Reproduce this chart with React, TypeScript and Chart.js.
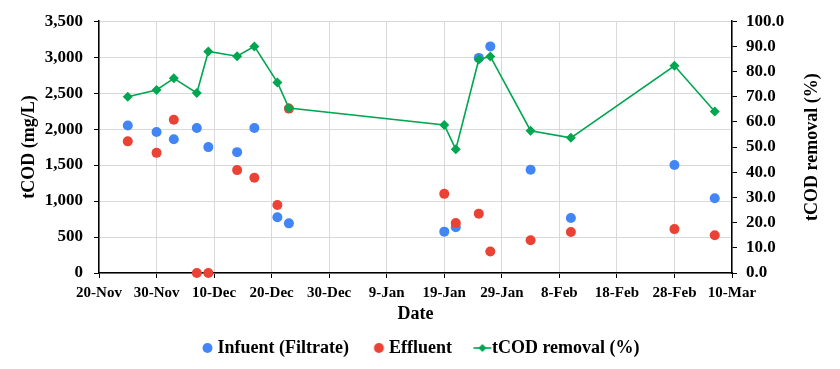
import { useEffect, useRef } from 'react';
import { Chart, registerables } from 'chart.js';

Chart.register(...registerables);

// ---- data ----
const AXIS_START = '2020-11-20';
const xTickLabels = ['20-Nov', '30-Nov', '10-Dec', '20-Dec', '30-Dec', '9-Jan', '19-Jan', '29-Jan', '8-Feb', '18-Feb', '28-Feb', '10-Mar'];
const sampleDates = [
  '2020-11-25', '2020-11-30', '2020-12-03', '2020-12-07', '2020-12-09', '2020-12-14',
  '2020-12-17', '2020-12-21', '2020-12-23', '2021-01-19', '2021-01-21', '2021-01-25',
  '2021-01-27', '2021-02-03', '2021-02-10', '2021-02-28', '2021-03-07',
];
const influent = [2050, 1960, 1860, 2015, 1750, 1680, 2015, 775, 690, 575, 635, 2990, 3150, 1435, 765, 1500, 1040];
const effluent = [1830, 1670, 2130, 0, 0, 1430, 1325, 945, 2285, 1100, 695, 825, 300, 455, 570, 610, 525];
const removal = [70.0, 72.7, 77.3, 71.5, 88.0, 86.1, 90.0, 75.7, 65.5, 58.8, 49.1, 84.8, 86.0, 56.5, 53.7, 82.3, 64.1];
const seriesNames = ['Infuent (Filtrate)', 'Effluent', 'tCOD removal (%)'];
const xTitle = 'Date';
const leftTitle = 'tCOD (mg/L)';
const rightTitle = 'tCOD removal (%)';

const BLUE = '#4285F4';
const RED = '#EA4335';
const GREEN = '#00A650';
const GRID = '#D9D9D9';
const FAMILY = '"Liberation Serif", "Times New Roman", serif';

const dayOffset = (d: string) => (Date.parse(d) - Date.parse(AXIS_START)) / 86400000;

function makeIcon(kind: 'dot' | 'line', color: string) {
  const c = document.createElement('canvas');
  c.width = 40;
  c.height = 14;
  const ctx = c.getContext('2d')!;
  ctx.fillStyle = color;
  ctx.strokeStyle = color;
  if (kind === 'dot') {
    ctx.beginPath();
    ctx.arc(29.5, 7, 5, 0, Math.PI * 2);
    ctx.fill();
  } else {
    ctx.lineWidth = 1.6;
    ctx.beginPath();
    ctx.moveTo(21, 7);
    ctx.lineTo(39, 7);
    ctx.stroke();
    ctx.beginPath();
    ctx.moveTo(30, 3);
    ctx.lineTo(34, 7);
    ctx.lineTo(30, 11);
    ctx.lineTo(26, 7);
    ctx.closePath();
    ctx.fill();
  }
  return c;
}

const rightTitlePlugin = {
  id: 'rightTitle',
  afterDraw(chart: any) {
    const { ctx, chartArea } = chart;
    ctx.save();
    ctx.translate(812, (chartArea.top + chartArea.bottom) / 2);
    ctx.rotate(-Math.PI / 2);
    ctx.font = `bold 18px ${FAMILY}`;
    ctx.fillStyle = '#000';
    ctx.textAlign = 'center';
    ctx.textBaseline = 'middle';
    ctx.fillText(rightTitle, 0, 0);
    ctx.restore();
  },
};

export default function App() {
  const ref = useRef<HTMLCanvasElement>(null);

  useEffect(() => {
    document.body.style.margin = '0';
    const xs = sampleDates.map(dayOffset);
    const icons = [makeIcon('dot', BLUE), makeIcon('dot', RED), makeIcon('line', GREEN)];
    const tickFont = { family: FAMILY, size: 15, weight: 'bold' as const };
    const yTickFont = { family: FAMILY, size: 17, weight: 'bold' as const };
    const titleFont = { family: FAMILY, size: 18, weight: 'bold' as const };

    const chart = new Chart(ref.current!, {
      type: 'scatter',
      data: {
        datasets: [
          {
            label: seriesNames[0],
            data: xs.map((x, i) => ({ x, y: influent[i] })),
            yAxisID: 'y',
            backgroundColor: BLUE,
            borderColor: BLUE,
            pointRadius: 5,
            pointBorderWidth: 0,
            showLine: false,
            order: 3,
            clip: false,
          },
          {
            label: seriesNames[1],
            data: xs.map((x, i) => ({ x, y: effluent[i] })),
            yAxisID: 'y',
            backgroundColor: RED,
            borderColor: RED,
            pointRadius: 5,
            pointBorderWidth: 0,
            showLine: false,
            order: 2,
            clip: false,
          },
          {
            label: seriesNames[2],
            data: xs.map((x, i) => ({ x, y: removal[i] })),
            yAxisID: 'y1',
            backgroundColor: GREEN,
            borderColor: GREEN,
            borderWidth: 1.6,
            pointStyle: 'rectRot',
            pointRadius: 5,
            pointBorderWidth: 0,
            showLine: true,
            tension: 0,
            order: 1,
            clip: false,
          },
        ],
      },
      options: {
        animation: false,
        responsive: false,
        maintainAspectRatio: false,
        layout: { padding: { left: 15, right: 28, top: 20, bottom: 2 } },
        plugins: {
          tooltip: { enabled: false },
          legend: {
            position: 'bottom',
            labels: {
              usePointStyle: true,
              pointStyleWidth: 21,
              boxWidth: 21,
              boxHeight: 18,
              padding: 10,
              color: '#000',
              font: titleFont,
              sort: (a: any, b: any) => a.datasetIndex - b.datasetIndex,
              generateLabels: (ch: any) => {
                const items = (Chart.defaults.plugins.legend.labels as any).generateLabels(ch);
                items.forEach((it: any) => {
                  it.pointStyle = icons[it.datasetIndex];
                });
                return items;
              },
            },
          },
        },
        scales: {
          x: {
            type: 'linear',
            position: 'bottom',
            min: 0,
            max: 110,
            ticks: {
              stepSize: 10,
              autoSkip: false,
              maxRotation: 0,
              color: '#000',
              font: tickFont,
              padding: 6,
              callback: (v: any) => xTickLabels[Math.round(Number(v) / 10)] ?? '',
            },
            grid: { color: GRID, tickColor: '#000', tickLength: 5, lineWidth: 1 },
            border: { color: '#000', width: 1.5 },
            title: { display: true, text: xTitle, color: '#000', font: titleFont },
            afterFit: (s: any) => {
              s.height = 56;
            },
          },
          y: {
            position: 'left',
            min: 0,
            max: 3500,
            ticks: {
              stepSize: 500,
              color: '#000',
              font: yTickFont,
              padding: 11,
              callback: (v: any) => Number(v).toLocaleString('en-US'),
            },
            grid: { color: GRID, tickColor: '#000', tickLength: 5, lineWidth: 1 },
            border: { color: '#000', width: 1.5 },
            title: { display: true, text: leftTitle, color: '#000', font: titleFont },
            afterFit: (s: any) => {
              s.width = 84;
            },
          },
          y1: {
            position: 'right',
            min: 0,
            max: 100,
            ticks: {
              stepSize: 10,
              color: '#000',
              font: yTickFont,
              padding: 9,
              callback: (v: any) => Number(v).toFixed(1),
            },
            grid: { drawOnChartArea: false, tickColor: '#000', tickLength: 5 },
            border: { color: '#000', width: 1.5 },
            afterFit: (s: any) => {
              s.width = 80;
            },
          },
        },
      },
      plugins: [rightTitlePlugin],
    } as any);

    return () => chart.destroy();
  }, []);

  return (
    <div style={{ position: 'fixed', left: 0, top: 0, width: 840, height: 369, background: '#fff' }}>
      <canvas ref={ref} width={840} height={369} />
    </div>
  );
}
